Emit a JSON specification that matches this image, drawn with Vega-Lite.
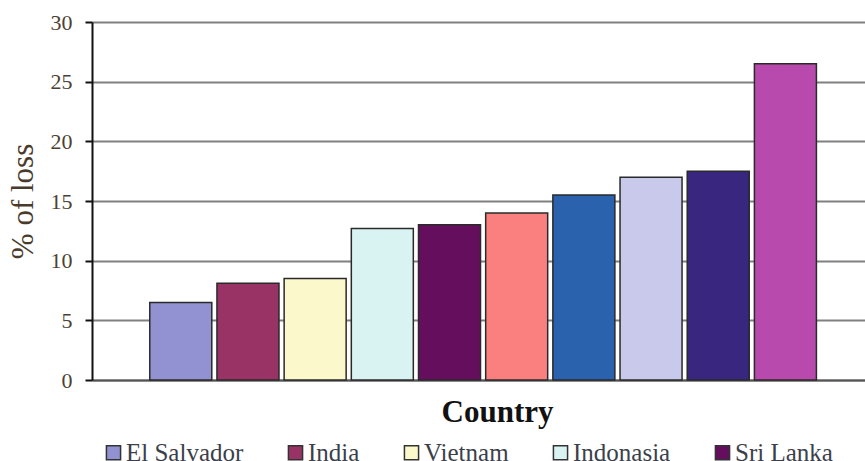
{
  "$schema": "https://vega.github.io/schema/vega-lite/v6.json",
  "autosize": {"type": "none"},
  "padding": {"left": 92, "top": 22, "right": 0, "bottom": 81},
  "width": 801,
  "height": 358,
  "background": "white",
  "data": {"values": [
    {"country": "El Salvador", "loss": 6.5},
    {"country": "India", "loss": 8.1},
    {"country": "Vietnam", "loss": 8.5},
    {"country": "Indonasia", "loss": 12.7},
    {"country": "Sri Lanka", "loss": 13.0},
    {"country": "Country 6", "loss": 14.0},
    {"country": "Country 7", "loss": 15.5},
    {"country": "Country 8", "loss": 17.0},
    {"country": "Country 9", "loss": 17.5},
    {"country": "Country 10", "loss": 26.5}
  ]},
  "mark": {"type": "bar", "stroke": "#2a2a2a", "strokeWidth": 1.5},
  "encoding": {
    "x": {
      "field": "country", "type": "nominal", "sort": null,
      "scale": {"paddingInner": 0.077, "paddingOuter": 1, "align": 0.43},
      "axis": {
        "labels": false, "ticks": false, "domainColor": "#555555", "domainWidth": 2,
        "title": "Country", "titleFont": "Liberation Serif", "titleFontSize": 31,
        "titleFontWeight": "bold", "titleColor": "#111111", "titlePadding": 17,
        "titleX": 405
      }
    },
    "y": {
      "field": "loss", "type": "quantitative",
      "scale": {"domain": [0, 30]},
      "axis": {
        "values": [0, 5, 10, 15, 20, 25, 30],
        "title": "% of loss", "titleFont": "Liberation Serif", "titleFontSize": 31,
        "titleFontWeight": "normal", "titleColor": "#4a3a2c", "titlePadding": 11,
        "labelFont": "Liberation Serif", "labelFontSize": 22, "labelColor": "#4d3f33",
        "labelPadding": 13,
        "domainColor": "#111111", "domainWidth": 2,
        "tickColor": "#111111", "tickWidth": 2, "tickSize": 7,
        "gridColor": "#808080", "gridWidth": 2, "gridOpacity": 1
      }
    },
    "color": {
      "field": "country", "type": "nominal", "sort": null,
      "scale": {
        "domain": ["El Salvador", "India", "Vietnam", "Indonasia", "Sri Lanka", "Country 6", "Country 7", "Country 8", "Country 9", "Country 10"],
        "range": ["#9292d2", "#993366", "#fbf8cc", "#d8f3f2", "#660e5e", "#fa8080", "#2a62ad", "#c9c9ec", "#38267f", "#b94aad"]
      },
      "legend": {
        "values": ["El Salvador", "India", "Vietnam", "Indonasia", "Sri Lanka"],
        "title": null, "orient": "none", "legendX": 9, "legendY": 418,
        "direction": "horizontal", "columns": 5, "columnPadding": 39,
        "symbolType": "square", "symbolSize": 200, "symbolStrokeColor": "#333333",
        "symbolStrokeWidth": 1.5, "symbolOpacity": 1,
        "labelFont": "Liberation Serif", "labelFontSize": 25, "labelColor": "#3b3f4a",
        "labelOffset": 0, "labelLimit": 300
      }
    }
  },
  "config": {"view": {"stroke": null}}
}
